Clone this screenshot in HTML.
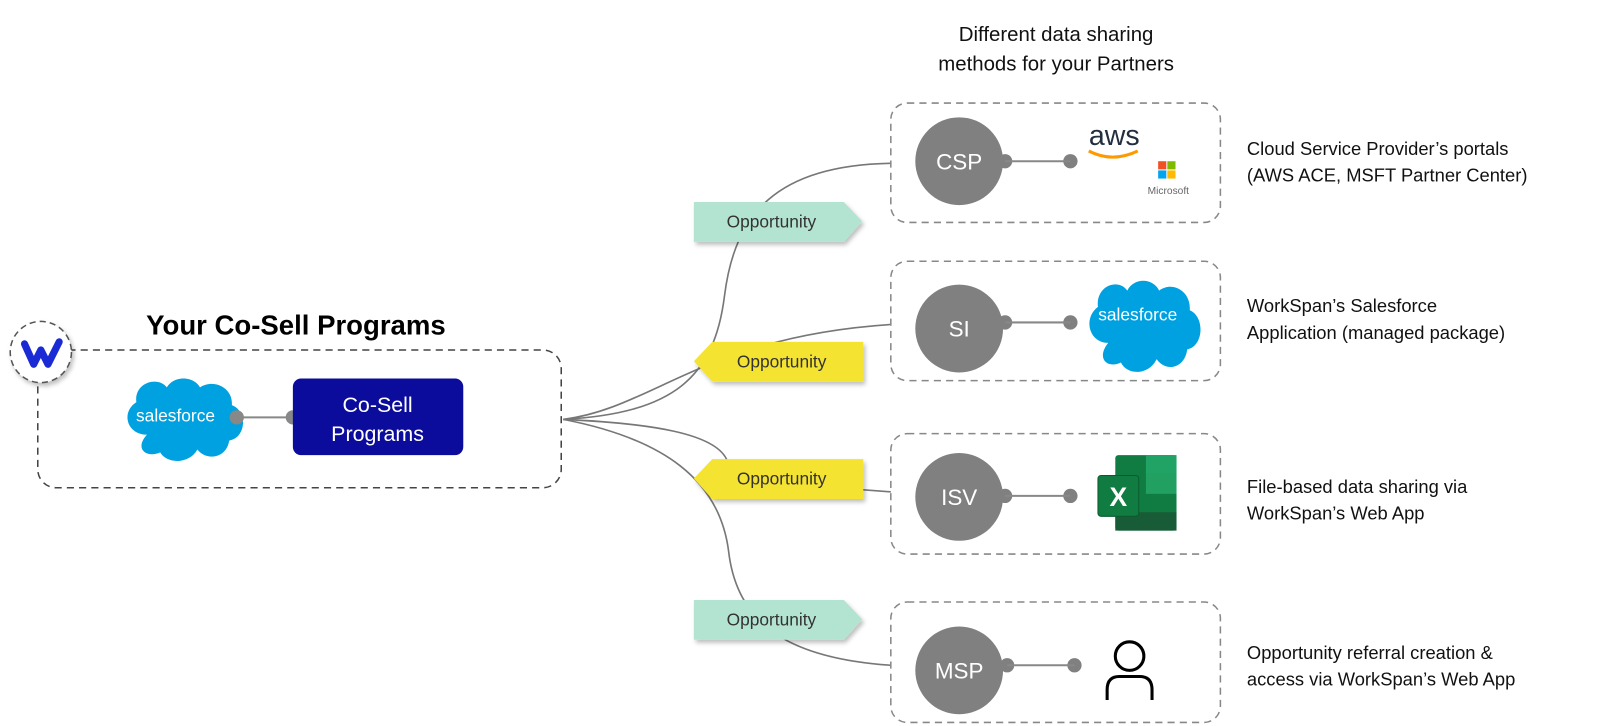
<!DOCTYPE html>
<html><head><meta charset="utf-8"><style>
body{margin:0;background:#fff;width:1600px;height:726px;overflow:hidden;font-family:"Liberation Sans",sans-serif}
svg{display:block}
</style></head><body>
<svg width="1600" height="726" viewBox="0 0 1568 711.5" xmlns="http://www.w3.org/2000/svg" font-family="Liberation Sans, sans-serif">
<defs>
<filter id="sh" x="-10%" y="-10%" width="130%" height="140%"><feDropShadow dx="2" dy="3" stdDeviation="2" flood-color="#000" flood-opacity="0.25"/></filter>
<g id="cloud"><path d="M20,40 C5,40 0,25 12,18 C10,5 28,0 35,8 C40,0 55,0 60,8 C70,2 85,8 84,20 C96,24 95,42 82,44 C80,56 65,58 58,50 C52,60 35,60 30,52 C20,56 10,50 20,40Z" fill="#00a1e0"/></g>
</defs>
<text x="1035" y="40" font-size="20" text-anchor="middle" fill="#111">Different data sharing</text>
<text x="1035" y="69" font-size="20" text-anchor="middle" fill="#111">methods for your Partners</text>
<rect x="37" y="343" width="513" height="135" rx="18" fill="none" stroke="#444" stroke-width="1.5" stroke-dasharray="7,5"/>
<text x="290" y="328" font-size="27" font-weight="bold" text-anchor="middle" fill="#000">Your Co-Sell Programs</text>
<circle cx="40" cy="345" r="30" fill="#fff" stroke="#555" stroke-width="1.5" stroke-dasharray="6,4" filter="url(#sh)"/>
<path d="M24,337 L33,357 L40,343 L47,357 L58,335" fill="none" stroke="#1a2bd6" stroke-width="7" stroke-linecap="round" stroke-linejoin="round"/>
<use href="#cloud" transform="translate(118,368) scale(1.3,1.45)"/>
<text x="172" y="413" font-size="17" fill="#fff" text-anchor="middle">salesforce</text>
<line x1="232" y1="409" x2="287" y2="409" stroke="#888" stroke-width="2"/>
<circle cx="232" cy="409" r="7" fill="#888"/><circle cx="287" cy="409" r="7" fill="#888"/>
<rect x="287" y="371" width="167" height="75" rx="8" fill="#0b0c9c"/>
<text x="370" y="404" font-size="21" fill="#fff" text-anchor="middle">Co-Sell</text>
<text x="370" y="432" font-size="21" fill="#fff" text-anchor="middle">Programs</text>
<g fill="none" stroke="#777" stroke-width="1.6">
<path d="M552,411 C660,405 700,370 710,290 C720,210 760,162 873,160"/>
<path d="M552,411 C640,400 690,330 873,318"/>
<path d="M552,411 C640,415 700,425 712,450 L712,470 L873,482"/>
<path d="M552,411 C650,430 705,470 714,540 C722,610 770,645 873,652"/>
</g>
<g filter="url(#sh)">
<path d="M680,198 L827,198 L845,217 L827,237 L680,237Z" fill="#b3e4d2"/>
<path d="M698,335 L846,335 L846,374 L698,374 L680,354Z" fill="#f5e331"/>
<path d="M698,450 L846,450 L846,489 L698,489 L680,469Z" fill="#f5e331"/>
<path d="M680,588 L827,588 L845,607 L827,627 L680,627Z" fill="#b3e4d2"/>
</g>
<g font-size="17" fill="#333" text-anchor="middle">
<text x="756" y="223">Opportunity</text>
<text x="766" y="360">Opportunity</text>
<text x="766" y="475">Opportunity</text>
<text x="756" y="613">Opportunity</text>
</g>
<g fill="none" stroke="#888" stroke-width="1.5" stroke-dasharray="7,5">
<rect x="873" y="101" width="323" height="117" rx="16"/>
<rect x="873" y="256" width="323" height="117" rx="16"/>
<rect x="873" y="425" width="323" height="118" rx="16"/>
<rect x="873" y="590" width="323" height="118" rx="16"/>
</g>
<g fill="#808080">
<circle cx="940" cy="158" r="43"/><circle cx="940" cy="322" r="43"/><circle cx="940" cy="487" r="43"/><circle cx="940" cy="657" r="43"/>
<circle cx="985" cy="158" r="7"/><circle cx="1049" cy="158" r="7"/>
<circle cx="985" cy="316" r="7"/><circle cx="1049" cy="316" r="7"/>
<circle cx="985" cy="486" r="7"/><circle cx="1049" cy="486" r="7"/>
<circle cx="987" cy="652" r="7"/><circle cx="1053" cy="652" r="7"/>
</g>
<g stroke="#888" stroke-width="2">
<line x1="985" y1="158" x2="1049" y2="158"/><line x1="985" y1="316" x2="1049" y2="316"/>
<line x1="985" y1="486" x2="1049" y2="486"/><line x1="987" y1="652" x2="1053" y2="652"/>
</g>
<g font-size="22" fill="#fff" text-anchor="middle">
<text x="940" y="166">CSP</text><text x="940" y="330">SI</text><text x="940" y="495">ISV</text><text x="940" y="665">MSP</text>
</g>
<text x="1092" y="142" font-size="28" fill="#232f3e" text-anchor="middle">aws</text>
<path d="M1067,148 Q1090,160 1115,148" fill="none" stroke="#f90" stroke-width="3"/>
<rect x="1135" y="158" width="8" height="8" fill="#f25022"/><rect x="1144" y="158" width="8" height="8" fill="#7fba00"/>
<rect x="1135" y="167" width="8" height="8" fill="#00a4ef"/><rect x="1144" y="167" width="8" height="8" fill="#ffb900"/>
<text x="1145" y="190" font-size="10" fill="#666" text-anchor="middle">Microsoft</text>
<use href="#cloud" transform="translate(1061,272) scale(1.25,1.6)"/>
<text x="1115" y="314" font-size="17" fill="#fff" text-anchor="middle">salesforce</text>
<rect x="1093" y="446" width="60" height="74" rx="3" fill="#107c41"/>
<rect x="1123" y="446" width="30" height="18" fill="#21a366"/><rect x="1123" y="464" width="30" height="20" fill="#33c481" opacity=".5"/>
<rect x="1093" y="502" width="60" height="18" fill="#185c37"/>
<rect x="1076" y="466" width="40" height="40" rx="3" fill="#107c41" stroke="#0a5a2e"/>
<text x="1096" y="496" font-size="26" font-weight="bold" fill="#fff" text-anchor="middle">X</text>
<circle cx="1107" cy="643" r="14" fill="none" stroke="#000" stroke-width="3"/>
<path d="M1085,686 L1085,676 Q1085,663 1097,663 L1117,663 Q1129,663 1129,676 L1129,686" fill="none" stroke="#000" stroke-width="3"/>
<g font-size="18" fill="#111">
<text x="1222" y="152">Cloud Service Provider’s portals</text>
<text x="1222" y="178">(AWS ACE, MSFT Partner Center)</text>
<text x="1222" y="306">WorkSpan’s Salesforce</text>
<text x="1222" y="332">Application (managed package)</text>
<text x="1222" y="483">File-based data sharing via</text>
<text x="1222" y="509">WorkSpan’s Web App</text>
<text x="1222" y="646">Opportunity referral creation &amp;</text>
<text x="1222" y="672">access via WorkSpan’s Web App</text>
</g>
</svg>
</body></html>
